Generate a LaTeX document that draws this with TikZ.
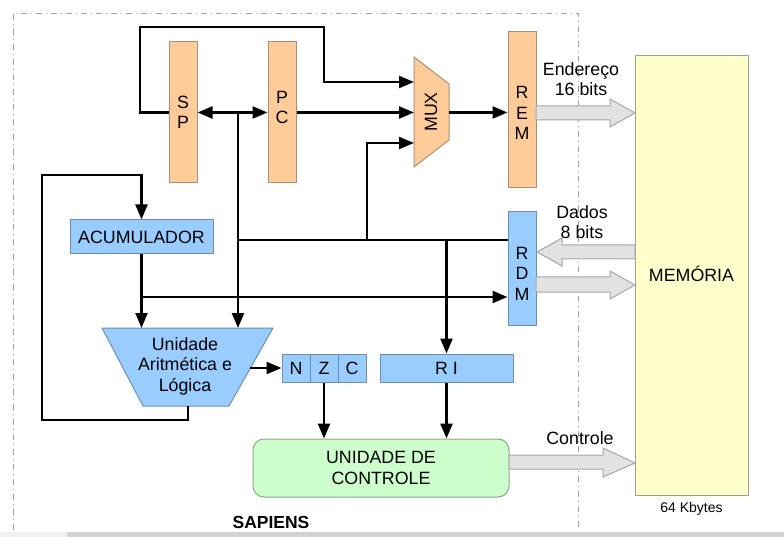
\documentclass[tikz,border=0pt]{standalone}
\usepackage{fontspec}
\setmainfont{Liberation Sans}
\usetikzlibrary{arrows.meta}
\definecolor{orangefill}{HTML}{FFCC99}
\definecolor{orangeedge}{HTML}{A89078}
\definecolor{bluefill}{HTML}{99CCFF}
\definecolor{blueedge}{HTML}{6F8FAF}
\definecolor{memfill}{HTML}{FFFFCC}
\definecolor{memedge}{HTML}{A0A090}
\definecolor{greenfill}{HTML}{CCFFCC}
\definecolor{greenedge}{HTML}{8CA88C}
\definecolor{busfill}{HTML}{E2E2E2}
\definecolor{busedge}{HTML}{A8A8A8}
\definecolor{frameedge}{HTML}{A0A0A0}
\tikzset{
  txt/.style={font=\fontsize{17.8}{20.5}\selectfont, align=center, inner sep=0pt},
  reg/.style={draw=orangeedge, fill=orangefill, line width=1pt, minimum width=28pt, inner sep=0pt},
  breg/.style={txt, draw=blueedge, fill=bluefill, line width=1pt, inner sep=0pt},
  wire/.style={line width=2.4pt, black},
  arr/.style={wire, -{Triangle[length=15pt,width=12pt]}},
  darr/.style={wire, {Triangle[length=15pt,width=12pt]}-{Triangle[length=15pt,width=12pt]}},
  bus/.style={draw=busedge, fill=busfill, line width=1pt, line join=miter},
  frame/.style={draw=frameedge, line width=0.9pt, dash pattern=on 6pt off 4pt on 1pt off 4pt}
}
\begin{document}
\begin{tikzpicture}[x=1pt,y=-1pt]
\useasboundingbox (0,0) rectangle (784,537);
\fill[white] (0,0) rectangle (784,537);
% screenshot strip at bottom
\fill[gray!12] (0,532) rectangle (67,537);
\fill[gray!35] (67,532) rectangle (784,537);
% frame
\draw[frame] (13,530) -- (13,13) -- (578,13) -- (578,530);

% registers
\node[reg, minimum height=141pt, label={[txt,yshift=0pt]center:{S\\P}}] (SP) at (183,112.5) {};
\node[reg, minimum height=141pt, label={[txt,yshift=5pt]center:{P\\C}}] (PC) at (282,112.5) {};
\node[reg, minimum height=156pt, label={[txt,yshift=-3pt]center:{R\\E\\M}}] (REM) at (522,110) {};
\node[breg, minimum width=28pt, minimum height=113pt, label={[txt,yshift=-5pt]center:{R\\D\\M}}] (RDM) at (522,268.5) {};
\node[breg, minimum width=143pt, minimum height=34pt] (ACC) at (141.5,237) {ACUMULADOR};
\node[breg, minimum width=133pt, minimum height=28pt] (RI) at (446.5,368) {R I};
\node[breg, minimum width=28pt, minimum height=28pt] (N) at (296,368) {N};
\node[breg, minimum width=28pt, minimum height=28pt] (Z) at (324,368) {Z};
\node[breg, minimum width=28pt, minimum height=28pt] (C) at (352,368) {C};
\node[txt, draw=greenedge, fill=greenfill, line width=1pt, rounded corners=11pt,
      minimum width=256pt, minimum height=58pt] (UC) at (381,468) {UNIDADE DE\\CONTROLE};
\node[draw=memedge, fill=memfill, line width=1pt, minimum width=113pt, minimum height=439pt,
      inner sep=0pt] (MEM) at (691.5,275.5) {};
\node[txt] (memtxt) at (691.5,274) {MEMÓRIA};
\node[txt, font=\fontsize{14}{16}\selectfont] (kb) at (691.5,509) {64 Kbytes};

% MUX trapezoid
\draw[draw=orangeedge, fill=orangefill, line width=1pt] (414,57) -- (449,84) -- (449,140) -- (414,167) -- cycle;
\node[txt, rotate=90] (MUX) at (431,112) {MUX};
\coordinate (mux1) at (414,82);
\coordinate (mux2) at (414,112.5);
\coordinate (mux3) at (414,143);
\coordinate (muxout) at (449,112.5);

% ALU trapezoid
\draw[draw=blueedge, fill=bluefill, line width=1pt] (102,328) -- (273,328) -- (229,406) -- (143,406) -- cycle;
\node[txt] (ALU) at (185,366) {Unidade\\Aritmética e\\Lógica};
\coordinate (alutopL) at (141.5,328);
\coordinate (alutopR) at (238,328);
\coordinate (aluout) at (250,368);
\coordinate (alubot) at (188,406);

% top loop SP -> MUX
\coordinate (loopA) at (140,27);
\coordinate (loopB) at (324,82);
\draw[arr] (SP.west) -| (loopA) -| (loopB) -- (mux1);

% SP <-> PC and down to ALU
\coordinate (spj) at (238,112.5);
\draw[darr] (SP.east) -- (PC.west);
\draw[arr] (spj) -- (alutopR);

% PC -> MUX
\draw[arr] (PC.east) -- (mux2);
% MUX -> REM
\draw[arr] (muxout) -- (muxout -| REM.west);

% internal bus from RDM
\coordinate (bus) at (238,240);
\coordinate (busm) at (367,240);
\draw[wire] (bus) -- (bus -| RDM.west);
\draw[arr] (busm) |- (mux3);
\draw[arr] (bus -| RI.north) -- (RI.north);

% accumulator outputs
\coordinate (accj) at (141.5,297);
\draw[arr] (ACC.south) -- (alutopL);
\draw[arr] (accj) -- (accj -| RDM.west);

% ALU result loop back to ACC
\coordinate (loopC) at (42,420);
\coordinate (loopD) at (141.5,175);
\draw[arr] (alubot) |- (loopC) |- (loopD) -- (ACC.north);

% ALU -> flags
\draw[arr] (aluout) -- (N.west);
% flags and RI -> control unit
\draw[arr] (Z.south) -- (Z.south |- UC.north);
\draw[arr] (RI.south) -- (RI.south |- UC.north);

% wide bus arrows
\draw[bus] (536,106) -- (610,106) -- (610,99) -- (635,113) -- (610,127) -- (610,120) -- (536,120) -- cycle;
\draw[bus] (635,245) -- (562,245) -- (562,238) -- (537,252) -- (562,266) -- (562,259) -- (635,259) -- cycle;
\draw[bus] (536,277) -- (610,277) -- (610,271) -- (635,285) -- (610,299) -- (610,292) -- (536,292) -- cycle;
\draw[bus] (509,455) -- (603,455) -- (603,448) -- (635,463) -- (603,477) -- (603,469) -- (509,469) -- cycle;

% bus labels
\node[txt] (lend) at (581,79) {Endereço\\16 bits};
\node[txt] (ldad) at (582,222) {Dados\\8 bits};
\node[txt] (lctl) at (580,438) {Controle};
\node[txt, font=\bfseries\fontsize{17.5}{20}\selectfont] (sap) at (271,522) {SAPIENS};
\end{tikzpicture}
\end{document}
